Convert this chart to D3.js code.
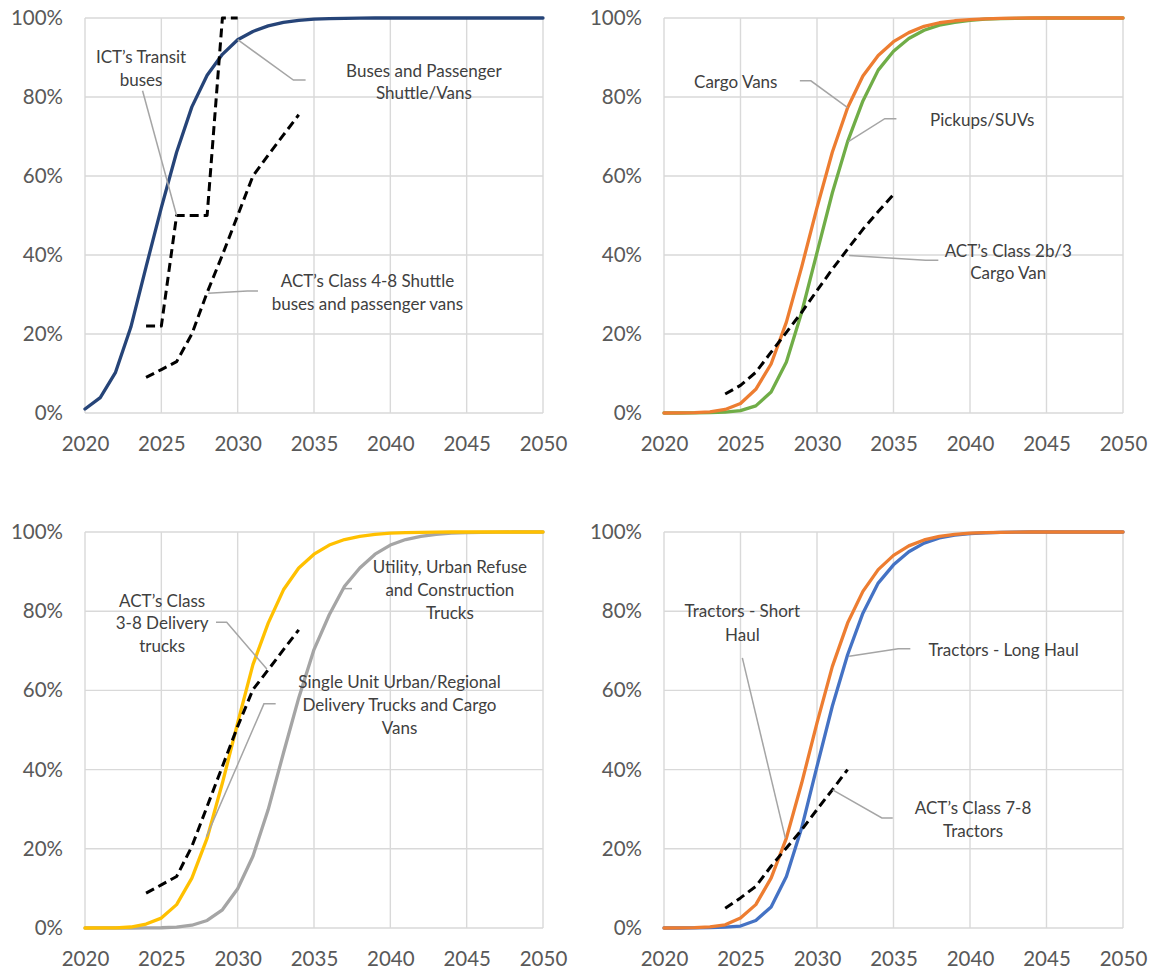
<!DOCTYPE html>
<html>
<head>
<meta charset="utf-8">
<script src="https://cdn.jsdelivr.net/npm/d3@7"></script>
<style>
  body { margin: 0; background: #fff; }
  svg { display: block; }
</style>
</head>
<body>
<svg id="chart" width="1151" height="973"></svg>
<script>
// ---- Data: adoption share (%) by year ----
const years = [2020, 2021, 2022, 2023, 2024, 2025, 2026, 2027, 2028, 2029, 2030,
               2031, 2032, 2033, 2034, 2035, 2036, 2037, 2038, 2039, 2040,
               2041, 2042, 2043, 2044, 2045, 2046, 2047, 2048, 2049, 2050];
const xTickYears = [2020, 2025, 2030, 2035, 2040, 2045, 2050];
const yTickValues = [0, 20, 40, 60, 80, 100];

// Buses
const busesShuttle = [1.0, 3.9, 10.3, 21.7, 37.0, 52.0, 66.0, 77.5, 85.5, 90.8, 94.5,
                      96.6, 98.0, 98.9, 99.4, 99.7, 99.85, 99.93, 99.97, 100, 100,
                      100, 100, 100, 100, 100, 100, 100, 100, 100, 100];
const ictYears = [2024, 2025, 2026, 2027, 2028, 2029, 2030];
const ictTransit = [22, 22, 50, 50, 50, 100, 100];
const act48Years = [2024, 2025, 2026, 2027, 2028, 2029, 2030, 2031, 2032, 2033, 2034];
const act48Shuttle = [9.0, 11.0, 13.0, 20.0, 30.5, 40.0, 50.0, 60.0, 65.3, 70.4, 75.5];

// Vans and pickups
const cargoVans = [0, 0.05, 0.1, 0.3, 0.9, 2.4, 6.0, 12.4, 23.0, 37.0, 52.0,
                   66.0, 77.3, 85.3, 90.5, 94.0, 96.3, 97.9, 98.8, 99.3, 99.6,
                   99.8, 99.9, 99.95, 100, 100, 100, 100, 100, 100, 100];
const pickupsSuvs = [0, 0, 0.02, 0.08, 0.2, 0.6, 1.8, 5.3, 12.9, 25.5, 40.6,
                     55.7, 68.7, 79.0, 86.8, 91.6, 94.8, 96.9, 98.2, 98.9, 99.4,
                     99.7, 99.85, 99.92, 99.96, 100, 100, 100, 100, 100, 100];
const act2b3Years = [2024, 2025, 2026, 2027, 2028, 2029, 2030, 2031, 2032, 2033, 2034, 2035];
const act2b3Van = [4.8, 7.0, 10.3, 15.4, 20.4, 25.5, 31.0, 36.4, 41.5, 46.5, 51.0, 55.3];

// Delivery and vocational trucks
const singleUnit = [0, 0.02, 0.05, 0.25, 1.0, 2.5, 5.9, 12.6, 22.7, 36.6, 51.8,
                    66.5, 77.0, 85.4, 90.9, 94.4, 96.7, 98.1, 98.9, 99.4, 99.7,
                    99.85, 99.93, 99.97, 100, 100, 100, 100, 100, 100, 100];
const utilityRefuse = [0, 0, 0, 0, 0.02, 0.06, 0.2, 0.7, 1.9, 4.6, 9.9,
                       18.1, 29.9, 44.2, 58.1, 70.3, 79.1, 86.3, 90.9, 94.4, 96.7,
                       98.1, 98.9, 99.4, 99.7, 99.85, 99.93, 99.97, 100, 100, 100];
const act38Years = [2024, 2025, 2026, 2027, 2028, 2029, 2030, 2031, 2032, 2033, 2034];
const act38Delivery = [8.8, 10.9, 13.0, 20.6, 30.7, 40.8, 50.9, 60.2, 65.2, 70.3, 75.3];

// Tractors
const shortHaul = [0, 0.05, 0.1, 0.3, 0.8, 2.5, 5.9, 12.6, 22.7, 36.6, 51.8,
                   66.0, 77.0, 85.0, 90.5, 94.1, 96.5, 98.0, 98.9, 99.4, 99.7,
                   99.85, 99.93, 99.97, 100, 100, 100, 100, 100, 100, 100];
const longHaul = [0, 0, 0.02, 0.08, 0.2, 0.5, 1.9, 5.3, 13.0, 25.3, 40.8,
                  56.0, 69.0, 79.5, 87.1, 91.7, 95.0, 97.2, 98.5, 99.2, 99.6,
                  99.8, 99.9, 99.95, 100, 100, 100, 100, 100, 100, 100];
const act78Years = [2024, 2025, 2026, 2027, 2028, 2029, 2030, 2031, 2032];
const act78Tractors = [5.0, 7.6, 10.5, 15.6, 20.2, 24.8, 29.9, 34.9, 40.0];

// ---- Styling ----
const COLORS = {
  navy: "#264478", orange: "#ED7D31", green: "#70AD47",
  yellow: "#FFC000", grey: "#A5A5A5", blue: "#4472C4", black: "#000000"
};
const GRID = "#D9D9D9";
const LEADER = "#A5A5A5";
const FONT = "Lato, 'Open Sans', sans-serif";

// ---- Panels: plot box, series and callouts (callouts in data units) ----
const panels = [
  {
    box: { left: 85, right: 543, top: 18, bottom: 413 },
    series: [
      { xs: years, ys: busesShuttle, color: COLORS.navy },
      { xs: ictYears, ys: ictTransit, color: COLORS.black, dashed: true },
      { xs: act48Years, ys: act48Shuttle, color: COLORS.black, dashed: true }
    ],
    notes: [
      { lines: ["ICT’s Transit", "buses"], at: [2023.67, [90.1, 84.4]],
        leader: [[2023.77, 81.6], [2026, 50]] },
      { lines: ["Buses and Passenger", "Shuttle/Vans"], at: [2042.2, [86.6, 80.9]],
        leader: [[2030, 94.5], [2033.65, 84.3], [2034.45, 84.3]] },
      { lines: ["ACT’s Class 4-8 Shuttle", "buses and passenger vans"], at: [2038.5, [33.4, 27.7]],
        leader: [[2028.07, 30.3], [2030.63, 30.9], [2031.33, 30.9]] }
    ]
  },
  {
    box: { left: 664, right: 1123, top: 18, bottom: 413 },
    series: [
      { xs: years, ys: pickupsSuvs, color: COLORS.green },
      { xs: years, ys: cargoVans, color: COLORS.orange },
      { xs: act2b3Years, ys: act2b3Van, color: COLORS.black, dashed: true }
    ],
    notes: [
      { lines: ["Cargo Vans"], at: [2024.69, [83.9]],
        leader: [[2028.88, 84.1], [2029.6, 84.1], [2032, 77.3]] },
      { lines: ["Pickups/SUVs"], at: [2040.8, [74.2]],
        leader: [[2035.19, 74.5], [2034.43, 74.5], [2032.05, 68.7]] },
      { lines: ["ACT’s Class 2b/3", "Cargo Van"], at: [2042.5, [41.0, 35.5]],
        leader: [[2037.93, 38.7], [2037.1, 38.7], [2032.1, 39.9]] }
    ]
  },
  {
    box: { left: 85, right: 543, top: 532, bottom: 928 },
    series: [
      { xs: years, ys: utilityRefuse, color: COLORS.grey },
      { xs: years, ys: singleUnit, color: COLORS.yellow },
      { xs: act38Years, ys: act38Delivery, color: COLORS.black, dashed: true }
    ],
    notes: [
      { lines: ["ACT’s Class", "3-8 Delivery", "trucks"], at: [2025.05, [82.5, 76.9, 71.1]],
        leader: [[2028.58, 77.2], [2029.28, 77.2], [2031.91, 65.4]] },
      { lines: ["Utility, Urban Refuse", "and Construction", "Trucks"], at: [2043.9, [91.1, 85.3, 79.5]],
        leader: [[2036.9, 85.7], [2037.49, 85.7]] },
      { lines: ["Single Unit Urban/Regional", "Delivery Trucks and Cargo", "Vans"], at: [2040.6, [62.1, 56.2, 50.5]],
        leader: [[2032.49, 56.6], [2031.72, 56.6], [2027.95, 23.0]] }
    ]
  },
  {
    box: { left: 664, right: 1123, top: 532, bottom: 928 },
    series: [
      { xs: years, ys: longHaul, color: COLORS.blue },
      { xs: years, ys: shortHaul, color: COLORS.orange },
      { xs: act78Years, ys: act78Tractors, color: COLORS.black, dashed: true }
    ],
    notes: [
      { lines: ["Tractors - Short", "Haul"], at: [2025.12, [80.0, 74.1]],
        leader: [[2025.12, 68.2], [2027.93, 22.7]] },
      { lines: ["Tractors - Long Haul"], at: [2042.2, [70.3]],
        leader: [[2036.1, 70.5], [2035.31, 70.5], [2032.1, 68.6]] },
      { lines: ["ACT’s Class 7-8", "Tractors"], at: [2040.2, [30.3, 24.4]],
        leader: [[2034.95, 27.8], [2034.24, 27.8], [2031.02, 34.9]] }
    ]
  }
];

const svg = d3.select("#chart");

panels.forEach(p => {
  const b = p.box;
  const x = d3.scaleLinear().domain([2020, 2050]).range([b.left, b.right]);
  const y = d3.scaleLinear().domain([0, 100]).range([b.bottom, b.top]);
  const g = svg.append("g");

  // gridlines
  g.append("g").selectAll("line").data(xTickYears).join("line")
    .attr("x1", d => x(d)).attr("x2", d => x(d))
    .attr("y1", b.top).attr("y2", b.bottom)
    .attr("stroke", GRID).attr("stroke-width", 1.4);
  g.append("g").selectAll("line").data(yTickValues).join("line")
    .attr("x1", b.left).attr("x2", b.right)
    .attr("y1", d => y(d)).attr("y2", d => y(d))
    .attr("stroke", GRID).attr("stroke-width", 1.4);

  // axes (labels only)
  const yAxis = g.append("g").attr("transform", `translate(${b.left},0)`)
    .call(d3.axisLeft(y).tickValues(yTickValues).tickSize(0).tickPadding(22)
      .tickFormat(d => d + "%"));
  const xAxis = g.append("g").attr("transform", `translate(0,${b.bottom})`)
    .call(d3.axisBottom(x).tickValues(xTickYears).tickSize(0).tickPadding(23)
      .tickFormat(d3.format("d")));
  [yAxis, xAxis].forEach(a => {
    a.select(".domain").remove();
    a.selectAll("text")
      .attr("fill", "#595959")
      .style("font-family", FONT)
      .style("font-size", "20.5px");
  });

  // series
  p.series.forEach(s => {
    const pts = s.xs.map((yr, i) => [yr, s.ys[i]]);
    const line = d3.line().x(d => x(d[0])).y(d => y(d[1]));
    g.append("path")
      .attr("d", line(pts))
      .attr("fill", "none")
      .attr("stroke", s.color)
      .attr("stroke-width", s.dashed ? 3 : 3.3)
      .attr("stroke-linejoin", "round")
      .attr("stroke-linecap", s.dashed ? "butt" : "round")
      .attr("stroke-dasharray", s.dashed ? "9,5" : null);
  });

  // callouts
  p.notes.forEach(n => {
    const line = d3.line().x(d => x(d[0])).y(d => y(d[1]));
    g.append("path")
      .attr("d", line(n.leader))
      .attr("fill", "none")
      .attr("stroke", LEADER)
      .attr("stroke-width", 1.5);
    const t = g.append("text")
      .attr("text-anchor", "middle")
      .attr("fill", "#404040")
      .style("font-family", FONT)
      .style("font-size", "17px");
    n.lines.forEach((txt, i) => {
      t.append("tspan")
        .attr("x", x(n.at[0]))
        .attr("y", y(n.at[1][i]))
        .attr("dy", "0.35em")
        .text(txt);
    });
  });
});
</script>
</body>
</html>
